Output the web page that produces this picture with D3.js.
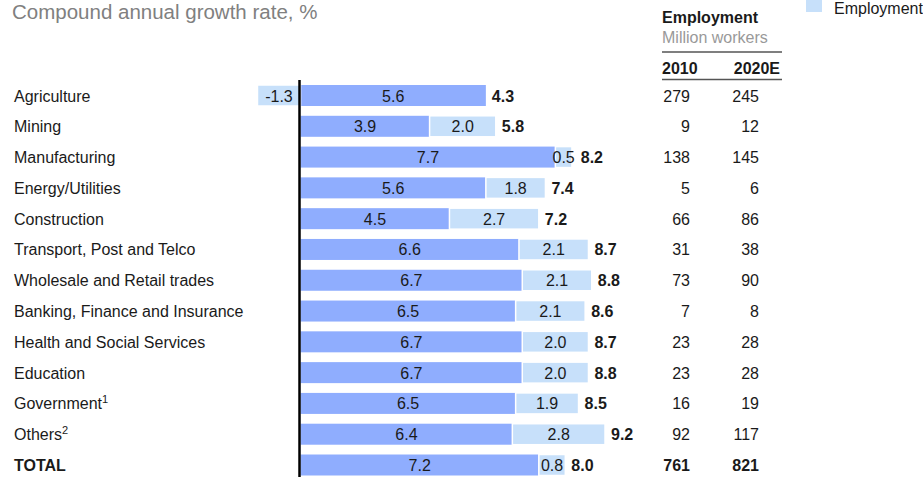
<!DOCTYPE html>
<html>
<head>
<meta charset="utf-8">
<script src="https://cdn.jsdelivr.net/npm/d3@7"></script>
<style>
  body { margin: 0; background: #fff; }
  svg { display: block; font-family: "Liberation Sans", Arial, sans-serif; }
</style>
</head>
<body>
<script>
const categories = ["Agriculture", "Mining", "Manufacturing", "Energy/Utilities", "Construction",
  "Transport, Post and Telco", "Wholesale and Retail trades", "Banking, Finance and Insurance",
  "Health and Social Services", "Education", "Government", "Others", "TOTAL"];
const footnotes = ["", "", "", "", "", "", "", "", "", "", "1", "2", ""];
const productivity = [5.6, 3.9, 7.7, 5.6, 4.5, 6.6, 6.7, 6.5, 6.7, 6.7, 6.5, 6.4, 7.2];
const employment = [-1.3, 2.0, 0.5, 1.8, 2.7, 2.1, 2.1, 2.1, 2.0, 2.0, 1.9, 2.8, 0.8];
const totals = [4.3, 5.8, 8.2, 7.4, 7.2, 8.7, 8.8, 8.6, 8.7, 8.8, 8.5, 9.2, 8.0];
const workers2010 = [279, 9, 138, 5, 66, 31, 73, 7, 23, 23, 16, 92, 761];
const workers2020 = [245, 12, 145, 6, 86, 38, 90, 8, 28, 28, 19, 117, 821];
const tableYears = ["2010", "2020E"];

const width = 923, height = 477;
const darkBlue = "#8fadfe", lightBlue = "#c7e0fa", ink = "#1a1a1a";
const fmt = v => v.toFixed(1);

const rows = categories.map((c, i) => ({
  name: c, note: footnotes[i], prod: productivity[i], emp: employment[i],
  total: totals[i], w10: workers2010[i], w20: workers2020[i], isTotal: c === "TOTAL"
}));

const x = d3.scaleLinear().domain([-2, 10]).range([300.5 - 2 * 33.1, 300.5 + 10 * 33.1]);
const y = d3.scalePoint().domain(categories).range([95.5, 465]);
const barH = 21;

const svg = d3.select("body").append("svg")
  .attr("width", width).attr("height", height);

// title (sits at the very top edge)
svg.append("text")
  .attr("x", 12).attr("y", 19)
  .attr("font-size", 20.5).attr("fill", "#808080")
  .text("Compound annual growth rate, %");

// legend (only lower item visible)
svg.append("rect").attr("x", 806).attr("y", -4).attr("width", 16).attr("height", 16).attr("fill", lightBlue);
svg.append("text").attr("x", 834).attr("y", 14).attr("font-size", 16).attr("fill", ink).text("Employment");

// table header
svg.append("text").attr("x", 662).attr("y", 23).attr("font-size", 16).attr("font-weight", "bold").attr("fill", ink).text("Employment");
svg.append("text").attr("x", 662).attr("y", 43).attr("font-size", 16).attr("fill", "#999").text("Million workers");
svg.append("line").attr("x1", 662).attr("x2", 782).attr("y1", 52).attr("y2", 52).attr("stroke", "#555").attr("stroke-width", 1.5);
svg.append("text").attr("x", 662).attr("y", 74).attr("font-size", 16).attr("font-weight", "bold").attr("fill", ink).text(tableYears[0]);
svg.append("text").attr("x", 780).attr("y", 74).attr("text-anchor", "end").attr("font-size", 16).attr("font-weight", "bold").attr("fill", ink).text(tableYears[1]);
svg.append("line").attr("x1", 662).attr("x2", 782).attr("y1", 79.5).attr("y2", 79.5).attr("stroke", "#555").attr("stroke-width", 1.5);

const row = svg.selectAll("g.row").data(rows).join("g").attr("class", "row");

// category labels
const lab = row.append("text")
  .attr("x", 14).attr("y", d => y(d.name) + 6)
  .attr("font-size", 16).attr("fill", ink)
  .attr("font-weight", d => d.isTotal ? "bold" : null)
  .text(d => d.name);
lab.filter(d => d.note).append("tspan")
  .attr("font-size", 11).attr("dy", -6).text(d => d.note);

// productivity segment
row.append("rect")
  .attr("x", x(0)).attr("y", d => y(d.name) - barH / 2)
  .attr("width", d => x(d.prod) - x(0)).attr("height", barH)
  .attr("fill", darkBlue);

// employment segment
row.append("rect")
  .attr("x", d => d.emp >= 0 ? x(d.prod) : x(d.emp))
  .attr("y", d => y(d.name) - barH / 2)
  .attr("width", d => d.emp >= 0 ? x(d.prod + d.emp) - x(d.prod) : x(0) - x(d.emp))
  .attr("height", barH)
  .attr("fill", lightBlue)
  .attr("stroke", "#fff").attr("stroke-width", 1.5);

// segment values
row.append("text")
  .attr("x", d => (x(0) + x(d.prod)) / 2).attr("y", d => y(d.name) + 6)
  .attr("text-anchor", "middle").attr("font-size", 16).attr("fill", ink)
  .text(d => fmt(d.prod));
const empLab = row.append("text")
  .attr("x", d => d.emp >= 0 ? (x(d.prod) + x(d.prod + d.emp)) / 2 : (x(d.emp) + x(0)) / 2)
  .attr("y", d => y(d.name) + 6)
  .attr("text-anchor", "middle").attr("font-size", 16).attr("fill", ink)
  .text(d => fmt(d.emp));

// totals, placed after the bar (or after the overflowing value label)
row.append("text")
  .attr("x", function(d) {
    const end = x(Math.max(d.prod, d.prod + d.emp));
    const el = empLab.filter(e => e === d).node();
    const lblEnd = d.emp >= 0 ? +el.getAttribute("x") + el.getComputedTextLength() / 2 : 0;
    return Math.max(end, lblEnd) + 6;
  })
  .attr("y", d => y(d.name) + 6)
  .attr("font-size", 16).attr("font-weight", "bold").attr("fill", ink)
  .text(d => fmt(d.total));

// employment table
row.append("text")
  .attr("x", 690).attr("y", d => y(d.name) + 6).attr("text-anchor", "end")
  .attr("font-size", 16).attr("fill", ink).attr("font-weight", d => d.isTotal ? "bold" : null)
  .text(d => d.w10);
row.append("text")
  .attr("x", 759).attr("y", d => y(d.name) + 6).attr("text-anchor", "end")
  .attr("font-size", 16).attr("fill", ink).attr("font-weight", d => d.isTotal ? "bold" : null)
  .text(d => d.w20);

// zero line
svg.append("line")
  .attr("x1", x(0) - 1).attr("x2", x(0) - 1)
  .attr("y1", 80).attr("y2", height)
  .attr("stroke", "#000").attr("stroke-width", 2.5);
</script>
</body>
</html>
